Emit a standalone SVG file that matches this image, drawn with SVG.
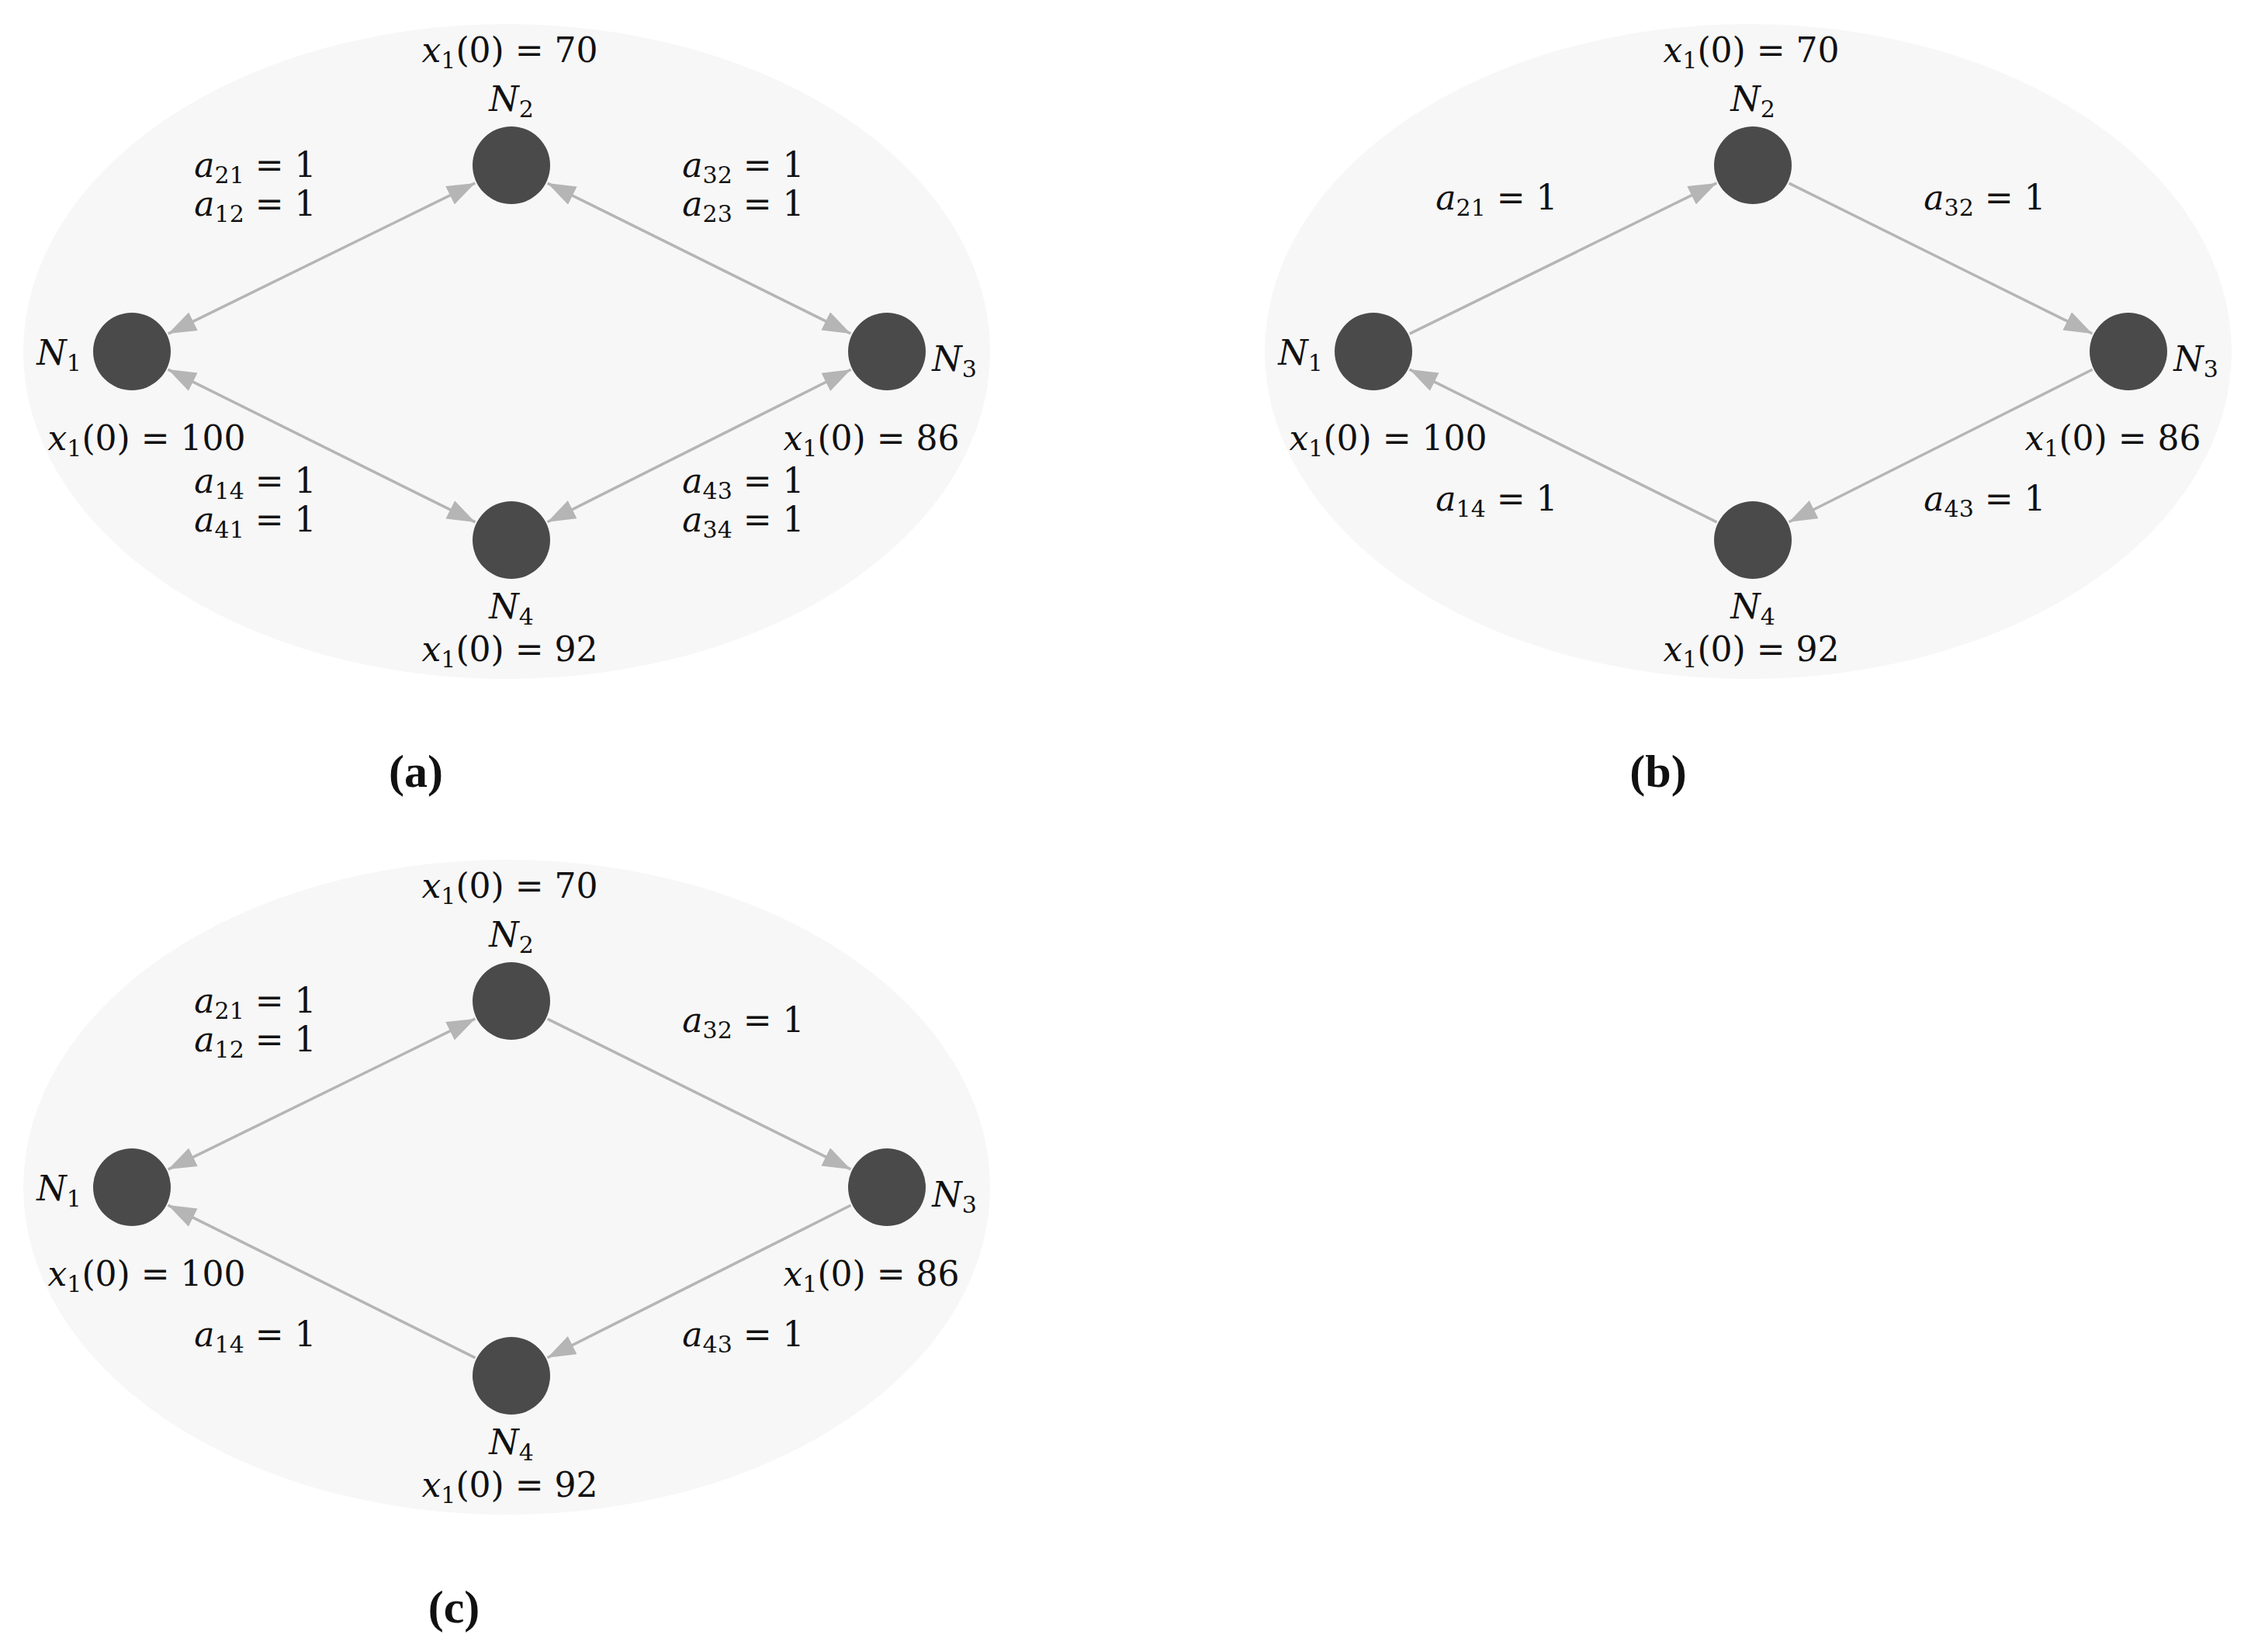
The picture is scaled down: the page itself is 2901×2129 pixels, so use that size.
<svg xmlns="http://www.w3.org/2000/svg" width="2901" height="2129" viewBox="0 0 2901 2129">
<style>
.bg{fill:#f7f7f7}
.nd{fill:#4a4a4a}
.e{stroke:#b5b5b5;stroke-width:3.5;fill:none}
text{font-family:"DejaVu Serif","Liberation Serif",serif;font-size:44px;fill:#111;text-anchor:middle}
.m{font-style:italic}
.s{font-size:30px;font-style:normal}
.cap{font-family:"Liberation Serif",serif;font-size:60px;font-weight:bold}
</style>
<defs>
<marker id="ah" markerUnits="userSpaceOnUse" markerWidth="40" markerHeight="28" refX="36" refY="13" orient="auto-start-reverse" viewBox="0 0 40 28"><path d="M0,0 L36,13 L0,26 z" fill="#b5b5b5"/></marker>
</defs>
<ellipse class="bg" cx="653" cy="453" rx="623" ry="422"/>
<ellipse class="bg" cx="2253" cy="453" rx="623" ry="422"/>
<ellipse class="bg" cx="653" cy="1530" rx="623" ry="422"/>
<g id="connectors">
<line class="e" x1="216.7" y1="430.1" x2="612.3" y2="235.9" marker-start="url(#ah)" marker-end="url(#ah)"/>
<line class="e" x1="705.6" y1="236.1" x2="1096.4" y2="429.9" marker-start="url(#ah)" marker-end="url(#ah)"/>
<line class="e" x1="1096.5" y1="476.3" x2="705.5" y2="672.7" marker-start="url(#ah)" marker-end="url(#ah)"/>
<line class="e" x1="612.5" y1="672.9" x2="216.5" y2="476.1" marker-start="url(#ah)" marker-end="url(#ah)"/>
<line class="e" x1="1816.7" y1="430.1" x2="2212.3" y2="235.9" marker-end="url(#ah)"/>
<line class="e" x1="2305.6" y1="236.1" x2="2696.4" y2="429.9" marker-end="url(#ah)"/>
<line class="e" x1="2696.5" y1="476.3" x2="2305.5" y2="672.7" marker-end="url(#ah)"/>
<line class="e" x1="2212.5" y1="672.9" x2="1816.5" y2="476.1" marker-end="url(#ah)"/>
<line class="e" x1="216.7" y1="1507.1" x2="612.3" y2="1312.9" marker-start="url(#ah)" marker-end="url(#ah)"/>
<line class="e" x1="705.6" y1="1313.1" x2="1096.4" y2="1506.9" marker-end="url(#ah)"/>
<line class="e" x1="1096.5" y1="1553.3" x2="705.5" y2="1749.7" marker-end="url(#ah)"/>
<line class="e" x1="612.5" y1="1749.9" x2="216.5" y2="1553.1" marker-end="url(#ah)"/>
</g>
<!-- panel a -->
<g id="a-N1"><circle class="nd" cx="170" cy="453" r="50"/><text x="76" y="470" class="m">N<tspan class="s" dy="8">1</tspan></text><text x="189" y="580"><tspan class="m">x</tspan><tspan class="s" dy="8">1</tspan><tspan dy="-8">(0) = 100</tspan></text></g>
<g id="a-N2"><circle class="nd" cx="659" cy="213" r="50"/><text x="659" y="143" class="m">N<tspan class="s" dy="8">2</tspan></text><text x="657" y="80"><tspan class="m">x</tspan><tspan class="s" dy="8">1</tspan><tspan dy="-8">(0) = 70</tspan></text></g>
<g id="a-N3"><circle class="nd" cx="1143" cy="453" r="50"/><text x="1230" y="478" class="m">N<tspan class="s" dy="8">3</tspan></text><text x="1123" y="580"><tspan class="m">x</tspan><tspan class="s" dy="8">1</tspan><tspan dy="-8">(0) = 86</tspan></text></g>
<g id="a-N4"><circle class="nd" cx="659" cy="696" r="50"/><text x="659" y="797" class="m">N<tspan class="s" dy="8">4</tspan></text><text x="657" y="852"><tspan class="m">x</tspan><tspan class="s" dy="8">1</tspan><tspan dy="-8">(0) = 92</tspan></text></g>
<g id="a-labels">
<text x="329" y="228"><tspan class="m">a</tspan><tspan class="s" dy="8">21</tspan><tspan dy="-8"> = 1</tspan></text>
<text x="329" y="278"><tspan class="m">a</tspan><tspan class="s" dy="8">12</tspan><tspan dy="-8"> = 1</tspan></text>
<text x="958" y="228"><tspan class="m">a</tspan><tspan class="s" dy="8">32</tspan><tspan dy="-8"> = 1</tspan></text>
<text x="958" y="278"><tspan class="m">a</tspan><tspan class="s" dy="8">23</tspan><tspan dy="-8"> = 1</tspan></text>
<text x="329" y="635"><tspan class="m">a</tspan><tspan class="s" dy="8">14</tspan><tspan dy="-8"> = 1</tspan></text>
<text x="329" y="685"><tspan class="m">a</tspan><tspan class="s" dy="8">41</tspan><tspan dy="-8"> = 1</tspan></text>
<text x="958" y="635"><tspan class="m">a</tspan><tspan class="s" dy="8">43</tspan><tspan dy="-8"> = 1</tspan></text>
<text x="958" y="685"><tspan class="m">a</tspan><tspan class="s" dy="8">34</tspan><tspan dy="-8"> = 1</tspan></text>
<text class="cap" x="536" y="1014">(a)</text>
</g>
<!-- panel b -->
<g id="b-N1"><circle class="nd" cx="1770" cy="453" r="50"/><text x="1676" y="470" class="m">N<tspan class="s" dy="8">1</tspan></text><text x="1789" y="580"><tspan class="m">x</tspan><tspan class="s" dy="8">1</tspan><tspan dy="-8">(0) = 100</tspan></text></g>
<g id="b-N2"><circle class="nd" cx="2259" cy="213" r="50"/><text x="2259" y="143" class="m">N<tspan class="s" dy="8">2</tspan></text><text x="2257" y="80"><tspan class="m">x</tspan><tspan class="s" dy="8">1</tspan><tspan dy="-8">(0) = 70</tspan></text></g>
<g id="b-N3"><circle class="nd" cx="2743" cy="453" r="50"/><text x="2830" y="478" class="m">N<tspan class="s" dy="8">3</tspan></text><text x="2723" y="580"><tspan class="m">x</tspan><tspan class="s" dy="8">1</tspan><tspan dy="-8">(0) = 86</tspan></text></g>
<g id="b-N4"><circle class="nd" cx="2259" cy="696" r="50"/><text x="2259" y="797" class="m">N<tspan class="s" dy="8">4</tspan></text><text x="2257" y="852"><tspan class="m">x</tspan><tspan class="s" dy="8">1</tspan><tspan dy="-8">(0) = 92</tspan></text></g>
<g id="b-labels">
<text x="1929" y="270"><tspan class="m">a</tspan><tspan class="s" dy="8">21</tspan><tspan dy="-8"> = 1</tspan></text>
<text x="2558" y="270"><tspan class="m">a</tspan><tspan class="s" dy="8">32</tspan><tspan dy="-8"> = 1</tspan></text>
<text x="1929" y="658"><tspan class="m">a</tspan><tspan class="s" dy="8">14</tspan><tspan dy="-8"> = 1</tspan></text>
<text x="2558" y="658"><tspan class="m">a</tspan><tspan class="s" dy="8">43</tspan><tspan dy="-8"> = 1</tspan></text>
<text class="cap" x="2137" y="1014">(b)</text>
</g>
<!-- panel c -->
<g id="c-N1"><circle class="nd" cx="170" cy="1530" r="50"/><text x="76" y="1547" class="m">N<tspan class="s" dy="8">1</tspan></text><text x="189" y="1657"><tspan class="m">x</tspan><tspan class="s" dy="8">1</tspan><tspan dy="-8">(0) = 100</tspan></text></g>
<g id="c-N2"><circle class="nd" cx="659" cy="1290" r="50"/><text x="659" y="1220" class="m">N<tspan class="s" dy="8">2</tspan></text><text x="657" y="1157"><tspan class="m">x</tspan><tspan class="s" dy="8">1</tspan><tspan dy="-8">(0) = 70</tspan></text></g>
<g id="c-N3"><circle class="nd" cx="1143" cy="1530" r="50"/><text x="1230" y="1555" class="m">N<tspan class="s" dy="8">3</tspan></text><text x="1123" y="1657"><tspan class="m">x</tspan><tspan class="s" dy="8">1</tspan><tspan dy="-8">(0) = 86</tspan></text></g>
<g id="c-N4"><circle class="nd" cx="659" cy="1773" r="50"/><text x="659" y="1874" class="m">N<tspan class="s" dy="8">4</tspan></text><text x="657" y="1929"><tspan class="m">x</tspan><tspan class="s" dy="8">1</tspan><tspan dy="-8">(0) = 92</tspan></text></g>
<g id="c-labels">
<text x="329" y="1305"><tspan class="m">a</tspan><tspan class="s" dy="8">21</tspan><tspan dy="-8"> = 1</tspan></text>
<text x="329" y="1355"><tspan class="m">a</tspan><tspan class="s" dy="8">12</tspan><tspan dy="-8"> = 1</tspan></text>
<text x="958" y="1330"><tspan class="m">a</tspan><tspan class="s" dy="8">32</tspan><tspan dy="-8"> = 1</tspan></text>
<text x="329" y="1735"><tspan class="m">a</tspan><tspan class="s" dy="8">14</tspan><tspan dy="-8"> = 1</tspan></text>
<text x="958" y="1735"><tspan class="m">a</tspan><tspan class="s" dy="8">43</tspan><tspan dy="-8"> = 1</tspan></text>
<text class="cap" x="585" y="2091">(c)</text>
</g>
</svg>
